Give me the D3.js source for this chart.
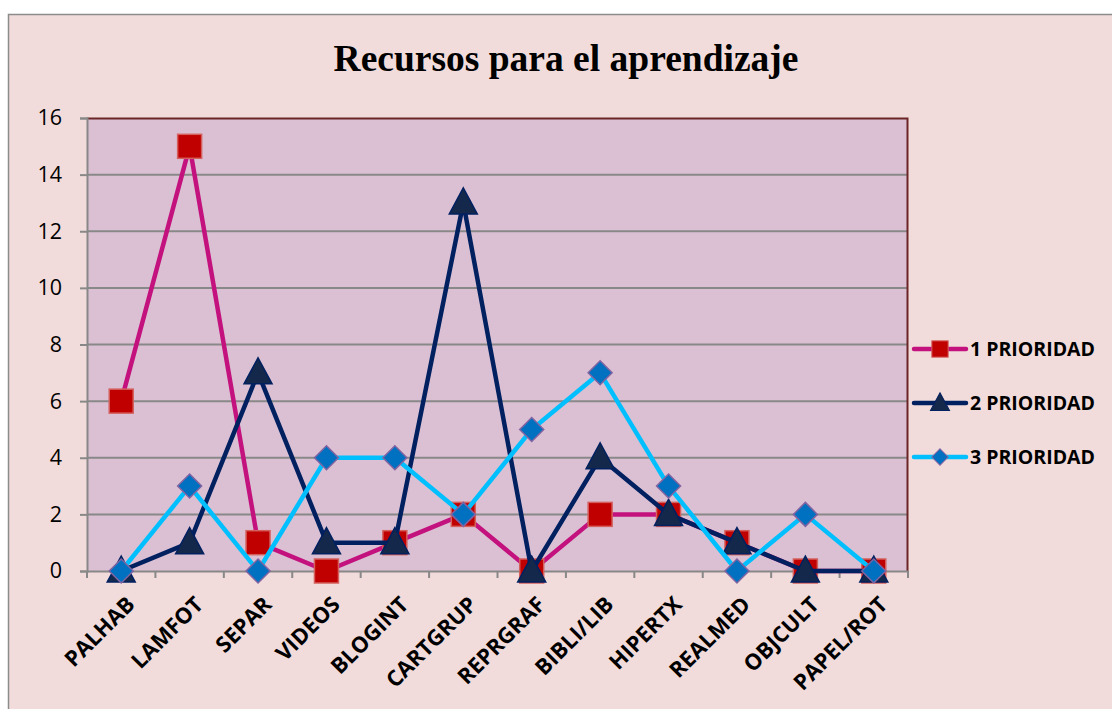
<!DOCTYPE html>
<html>
<head>
<meta charset="utf-8">
<script src="https://cdn.jsdelivr.net/npm/d3@7"></script>
<style>
  body { margin: 0; background: #fff; }
  #viz { width: 1112px; height: 709px; }
</style>
</head>
<body>
<div id="viz"></div>
<script>
var categories = ["PALHAB", "LAMFOT", "SEPAR", "VIDEOS", "BLOGINT", "CARTGRUP", "REPRGRAF", "BIBLI/LIB", "HIPERTX", "REALMED", "OBJCULT", "PAPEL/ROT"];
var prioridad1 = [6, 15, 1, 0, 1, 2, 0, 2, 2, 1, 0, 0];
var prioridad2 = [0, 1, 7, 1, 1, 13, 0, 4, 2, 1, 0, 0];
var prioridad3 = [0, 3, 0, 4, 4, 2, 5, 7, 3, 0, 2, 0];
var seriesNames = ["1 PRIORIDAD", "2 PRIORIDAD", "3 PRIORIDAD"];
var yTicks = [0, 2, 4, 6, 8, 10, 12, 14, 16];

var margin = {top: 118, right: 204, bottom: 138, left: 87};
var width = 1112, height = 709;
var plotW = width - margin.left - margin.right;
var plotH = height - margin.top - margin.bottom;

var styles = [
  {line: "#C3127E", fill: "#C00000", stroke: "#D4605E", shape: "square"},
  {line: "#002060", fill: "#14284B", stroke: "#002060", shape: "triangle"},
  {line: "#00BFFF", fill: "#0070C0", stroke: "#8064A2", shape: "diamond"}
];

var svg = d3.select("#viz").append("svg")
    .attr("width", width)
    .attr("height", height);

svg.append("rect").attr("width", width).attr("height", height).attr("fill", "#fff");
svg.append("rect")
    .attr("x", 8.5).attr("y", 14.5)
    .attr("width", width).attr("height", height)
    .attr("fill", "#F2DCDB")
    .attr("stroke", "#8C8C8C").attr("stroke-width", 1.5);

svg.append("text")
    .attr("x", 566).attr("y", 71)
    .attr("text-anchor", "middle")
    .style("font-family", "'Liberation Serif', 'Times New Roman', serif")
    .style("font-weight", "bold")
    .style("font-size", "37.5px")
    .text("Recursos para el aprendizaje");

var g = svg.append("g").attr("transform", "translate(" + margin.left + "," + margin.top + ")");

var x = d3.scaleBand().domain(categories).range([0, plotW]).padding(0);
var y = d3.scaleLinear().domain([0, 16]).range([plotH, 0]);

g.append("rect")
    .attr("width", plotW).attr("height", plotH)
    .attr("fill", "#DBC0D3");

// gridlines
g.append("g")
    .selectAll("line")
    .data(yTicks.filter(function(d){ return d > 0 && d < 16; }))
    .enter().append("line")
    .attr("x1", 0).attr("x2", plotW)
    .attr("y1", function(d){ return y(d); })
    .attr("y2", function(d){ return y(d); })
    .attr("stroke", "#888").attr("stroke-width", 2);

// plot border top/right
g.append("path")
    .attr("d", "M0,0.5H" + (plotW - 0.5) + "V" + plotH)
    .attr("fill", "none").attr("stroke", "#6B2427").attr("stroke-width", 2);

// y axis
var yAxis = g.append("g")
    .call(d3.axisLeft(y).tickValues(yTicks).tickSize(7).tickPadding(18));
yAxis.select(".domain").attr("stroke", "#888").attr("stroke-width", 2);
yAxis.selectAll(".tick line").attr("stroke", "#888").attr("stroke-width", 2);
yAxis.selectAll(".tick text")
    .attr("font-family", "'Open Sans', 'Noto Sans', sans-serif")
    .attr("font-size", 21.5)
    .attr("fill", "#000");

// x axis
var xAxis = g.append("g")
    .attr("transform", "translate(0," + plotH + ")")
    .call(d3.axisBottom(x).tickSize(0).tickFormat(""));
xAxis.select(".domain").attr("stroke", "#888").attr("stroke-width", 2);
g.append("g")
    .selectAll("line")
    .data(d3.range(categories.length + 1))
    .enter().append("line")
    .attr("x1", function(i){ return i * x.bandwidth(); })
    .attr("x2", function(i){ return i * x.bandwidth(); })
    .attr("y1", plotH).attr("y2", plotH + 7)
    .attr("stroke", "#888").attr("stroke-width", 2);

g.append("g")
    .selectAll("text")
    .data(categories)
    .enter().append("text")
    .attr("transform", function(d){
      var cx = x(d) + x.bandwidth() / 2 + 4;
      return "translate(" + cx + "," + (plotH + 24) + ") rotate(-45)";
    })
    .attr("text-anchor", "end")
    .attr("dy", "0.7em")
    .attr("font-family", "'Open Sans', 'Noto Sans', sans-serif")
    .attr("font-weight", "bold")
    .attr("font-size", 22)
    .text(function(d){ return d; });

function marker(sel, shape, st) {
  if (shape === "square") {
    sel.append("rect").attr("x", -12).attr("y", -12).attr("width", 24).attr("height", 24)
      .attr("fill", st.fill).attr("stroke", st.stroke).attr("stroke-width", 1.5);
  } else if (shape === "triangle") {
    sel.append("path").attr("d", "M0,-15L14,11L-14,11Z")
      .attr("fill", st.fill).attr("stroke", st.stroke).attr("stroke-width", 1.5);
  } else {
    sel.append("path").attr("d", "M0,-12L12,0L0,12L-12,0Z")
      .attr("fill", st.fill).attr("stroke", st.stroke).attr("stroke-width", 1.5);
  }
}

var allSeries = [prioridad1, prioridad2, prioridad3];
var line = d3.line()
    .x(function(d, i){ return x(categories[i]) + x.bandwidth() / 2; })
    .y(function(d){ return y(d); });

allSeries.forEach(function(vals, si){
  var st = styles[si];
  g.append("path")
    .datum(vals)
    .attr("d", line)
    .attr("fill", "none")
    .attr("stroke", st.line)
    .attr("stroke-width", 4.5)
    .attr("stroke-linejoin", "round");
  g.append("g").selectAll("g")
    .data(vals)
    .enter().append("g")
    .attr("transform", function(d, i){
      return "translate(" + (x(categories[i]) + x.bandwidth() / 2) + "," + y(d) + ")";
    })
    .each(function(){ marker(d3.select(this), st.shape, st); });
});

// legend
var legend = svg.append("g").attr("transform", "translate(912,349)");
seriesNames.forEach(function(name, i){
  var st = styles[i];
  var row = legend.append("g").attr("transform", "translate(0," + (i * 54) + ")");
  row.append("line").attr("x1", 2).attr("x2", 54).attr("y1", 0).attr("y2", 0)
    .attr("stroke", st.line).attr("stroke-width", 4.5).attr("stroke-linecap", "round");
  var m = row.append("g").attr("transform", "translate(" + 28 + ",0) scale(0.68)");
  marker(m, st.shape, st);
  row.append("text")
    .attr("x", 58).attr("y", 0).attr("dy", "0.36em")
    .attr("font-family", "'Open Sans', 'Noto Sans', sans-serif")
    .attr("font-weight", "bold")
    .attr("font-size", 19.5)
    .text(name);
});
</script>
</body>
</html>
